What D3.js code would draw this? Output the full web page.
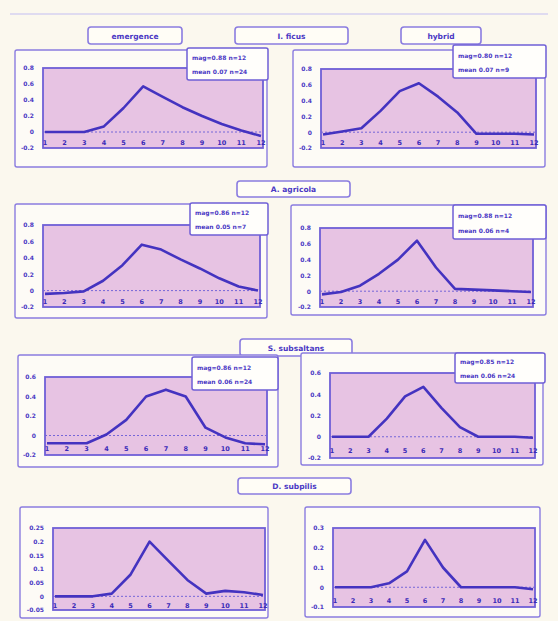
<!DOCTYPE html>
<html><head><meta charset="utf-8">
<script src="https://cdn.jsdelivr.net/npm/d3@7"></script>
<style>
html,body{margin:0;padding:0;background:#fbf8ee;}
svg{display:block;}
text{font-family:"DejaVu Sans",sans-serif;}
</style></head>
<body><svg id="c" width="558" height="621"></svg>
<script>
// ---------- data ----------
const months = ["1","2","3","4","5","6","7","8","9","10","11","12"];
const rowTitles = ["I. ficus", "A. agricola", "S. subsaltans", "D. subpilis"];
const sideTitles = ["emergence", "hybrid"];
const legendA = ["mag=0.88 n=12","mag=0.80 n=12","mag=0.86 n=12","mag=0.88 n=12","mag=0.86 n=12","mag=0.85 n=12"];
const legendB = ["mean 0.07 n=24","mean 0.07 n=9","mean 0.05 n=7","mean 0.06 n=4","mean 0.06 n=24","mean 0.06 n=24"];
const s1 = [0, 0, 0, 0.07, 0.3, 0.57, 0.44, 0.31, 0.2, 0.1, 0.02, -0.05];
const s2 = [-0.03, 0.01, 0.05, 0.27, 0.52, 0.62, 0.45, 0.25, -0.02, -0.02, -0.02, -0.03];
const s3 = [-0.04, -0.03, -0.01, 0.12, 0.31, 0.56, 0.5, 0.38, 0.27, 0.15, 0.05, 0];
const s4 = [-0.04, -0.01, 0.07, 0.22, 0.4, 0.64, 0.3, 0.03, 0.02, 0.01, 0, -0.01];
const s5 = [-0.08, -0.08, -0.08, 0.01, 0.16, 0.4, 0.47, 0.4, 0.08, -0.02, -0.08, -0.09];
const s6 = [0, 0, 0, 0.17, 0.38, 0.47, 0.27, 0.09, 0, 0, 0, -0.01];
const s7 = [0, 0, 0, 0.01, 0.08, 0.2, 0.13, 0.06, 0.01, 0.02, 0.015, 0.005];
const s8 = [0, 0, 0, 0.02, 0.08, 0.24, 0.1, 0, 0, 0, 0, -0.01];
const ticksA = [-0.2, 0, 0.2, 0.4, 0.6, 0.8];
const ticksB = [-0.2, 0, 0.2, 0.4, 0.6];
const ticksC = [-0.05, 0, 0.05, 0.1, 0.15, 0.2, 0.25];
const ticksD = [-0.1, 0, 0.1, 0.2, 0.3];
const tickLabA = ["-0.2","0","0.2","0.4","0.6","0.8"];
const tickLabB = ["-0.2","0","0.2","0.4","0.6"];
const tickLabC = ["-0.05","0","0.05","0.1","0.15","0.2","0.25"];
const tickLabD = ["-0.1","0","0.1","0.2","0.3"];

// ---------- layout ----------
const panels = [
  {s:s1, t:ticksA, tl:tickLabA, outer:[15,50,252,117], plot:[43,68,220,80], leg:[187,48,81,32], li:0, lab:-0.13},
  {s:s2, t:ticksA, tl:tickLabA, outer:[293,50,252,117], plot:[321,69,215,79], leg:[453,45,93,33], li:1, lab:-0.13},
  {s:s3, t:ticksA, tl:tickLabA, outer:[15,204,252,114], plot:[43,225,217,82], leg:[190,203,78,32], li:2, lab:-0.13},
  {s:s4, t:ticksA, tl:tickLabA, outer:[291,205,255,110], plot:[320,228,213,79], leg:[453,205,93,34], li:3, lab:-0.13},
  {s:s5, t:ticksB, tl:tickLabB, outer:[18,355,260,112], plot:[45,377,222,78], leg:[192,357,86,33], li:4, lab:-0.13},
  {s:s6, t:ticksB, tl:tickLabB, outer:[301,353,242,112], plot:[330,373,205,85], leg:[455,353,90,30], li:5, lab:-0.13},
  {s:s7, t:ticksC, tl:tickLabC, outer:[20,507,248,111], plot:[53,528,212,82], leg:null, lab:-0.033},
  {s:s8, t:ticksD, tl:tickLabD, outer:[305,507,235,110], plot:[333,528,202,79], leg:null, lab:-0.065}
];
const titleBoxes = [
  {text:sideTitles[0], x:88, y:27, w:94, h:17},
  {text:rowTitles[0], x:235, y:27, w:113, h:17},
  {text:sideTitles[1], x:401, y:27, w:80, h:17},
  {text:rowTitles[1], x:237, y:181, w:113, h:16},
  {text:rowTitles[2], x:240, y:339, w:112, h:17},
  {text:rowTitles[3], x:238, y:478, w:113, h:16}
];

const ink = "#4a38c4";
const frame = "#8a7ce0";
const fill = "#e7c3e3";
const svg = d3.select("#c");

// faint top rule
svg.append("line").attr("x1",10).attr("x2",548).attr("y1",14).attr("y2",14)
  .attr("stroke","#d6d2f0").attr("stroke-width",1.5);

titleBoxes.forEach(b=>{
  svg.append("rect").attr("x",b.x).attr("y",b.y).attr("width",b.w).attr("height",b.h)
    .attr("rx",3).attr("fill","#fffdf6").attr("stroke",frame).attr("stroke-width",1.6);
  svg.append("text").attr("x",b.x+b.w/2).attr("y",b.y+b.h/2+3).attr("text-anchor","middle")
    .attr("font-size",7.5).attr("font-weight","bold").attr("fill",ink).text(b.text);
});

panels.forEach(p=>{
  const g = svg.append("g");
  g.append("rect").attr("x",p.outer[0]).attr("y",p.outer[1]).attr("width",p.outer[2]).attr("height",p.outer[3])
    .attr("fill","#fdfbf6").attr("stroke",frame).attr("stroke-width",1.4).attr("rx",2);
  const [px,py,pw,ph] = p.plot;
  const x = d3.scalePoint().domain(months).range([px+2,px+pw-2]);
  const y = d3.scaleLinear().domain([p.t[0], p.t[p.t.length-1]]).range([py+ph,py]);
  g.append("rect").attr("x",px).attr("y",py).attr("width",pw).attr("height",ph)
    .attr("fill",fill).attr("stroke","#6f5fd6").attr("stroke-width",1.8);
  // dotted zero line
  g.append("line").attr("x1",px).attr("x2",px+pw).attr("y1",y(0)).attr("y2",y(0))
    .attr("stroke","#7566d8").attr("stroke-width",1).attr("stroke-dasharray","2,2");
  // y axis
  const ax = d3.axisLeft(y).tickValues(p.t).tickSize(0).tickPadding(9)
    .tickFormat((d,i)=>p.tl[i]);
  const ag = g.append("g").attr("transform",`translate(${px},0)`).call(ax);
  ag.select(".domain").remove();
  ag.selectAll("text").attr("font-size",6).attr("font-weight","bold").attr("fill",ink)
    .attr("font-family","DejaVu Sans");
  // x labels inside bottom strip
  g.selectAll(".xl").data(months).enter().append("text")
    .attr("x",d=>x(d)).attr("y",y(p.lab)+2.5).attr("text-anchor","middle")
    .attr("font-size",6.5).attr("font-weight","bold").attr("fill","#3a2ab8").text(d=>d);
  // data line
  const line = d3.line().x((d,i)=>x(months[i])).y(d=>y(d));
  g.append("path").datum(p.s).attr("d",line).attr("fill","none")
    .attr("stroke","#4433c0").attr("stroke-width",2.6).attr("stroke-linejoin","round");
  // legend
  if(p.leg){
    const [lx,ly,lw,lh] = p.leg;
    g.append("rect").attr("x",lx).attr("y",ly).attr("width",lw).attr("height",lh)
      .attr("fill","#fffefb").attr("stroke","#6f5fd6").attr("stroke-width",1.5).attr("rx",2);
    [legendA[p.li], legendB[p.li]].forEach((t,k)=>{
      g.append("text").attr("x",lx+5).attr("y",ly+lh*(k===0?0.38:0.82))
        .attr("font-size",6).attr("font-weight","bold").attr("fill",ink).text(t);
    });
  }
});
</script></body></html>
